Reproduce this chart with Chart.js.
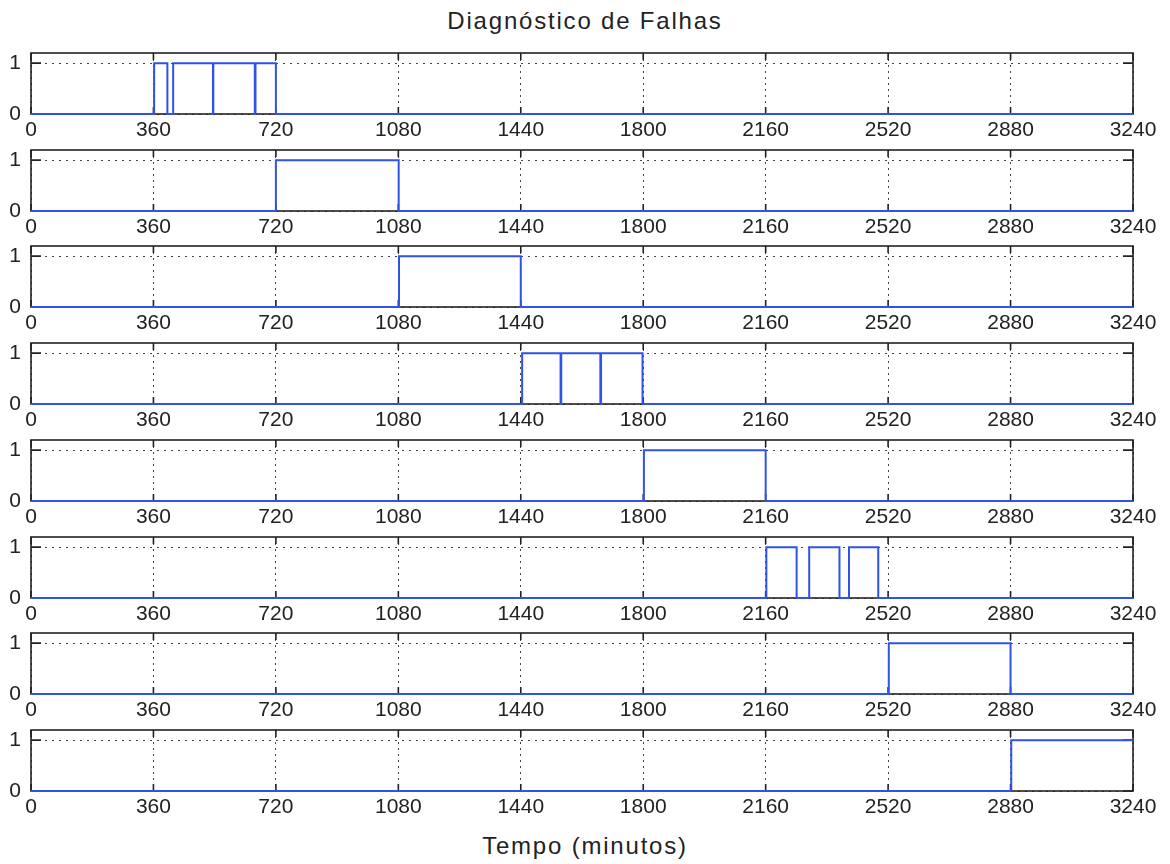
<!DOCTYPE html>
<html>
<head>
<meta charset="utf-8">
<title>Diagnóstico de Falhas</title>
<script src="https://cdn.jsdelivr.net/npm/chart.js@4.4.0/dist/chart.umd.min.js"></script>
<style>
    body { margin: 0; background: #fff; }
    #page {
        position: relative;
        width: 1170px;
        height: 864px;
        font-family: "Liberation Sans", Arial, sans-serif;
        color: #222;
    }
    .panel { position: absolute; left: 0; width: 1170px; height: 99px; }
    .caption {
        position: absolute;
        left: 0;
        width: 1170px;
        text-align: center;
        font-size: 24px;
        letter-spacing: 1.8px;
    }
</style>
</head>
<body>
<div id="page">
    <div class="caption" style="top:7px">Diagnóstico de Falhas</div>
    <div class="caption" style="top:832px">Tempo (minutos)</div>
</div>

<script>
// x ticks (minutes) and y ticks shared by every panel
const tickMinutes = [0, 360, 720, 1080, 1440, 1800, 2160, 2520, 2880, 3240];
const stateTicks = [0, 1];

// fault indicators: minute where the state changes, and the new state
const f1Time  = [0, 362, 401, 418, 535, 536, 658, 660, 720, 3240];
const f1State = [0, 1,   0,   1,   0,   1,   0,   1,   0,   0];

const f2Time  = [0, 720, 1081, 3240];
const f2State = [0, 1,   0,    0];

const f3Time  = [0, 1082, 1440, 3240];
const f3State = [0, 1,    0,    0];

const f4Time  = [0, 1444, 1557, 1559, 1674, 1676, 1798, 3240];
const f4State = [0, 1,    0,    1,    0,    1,    0,    0];

const f5Time  = [0, 1802, 2160, 3240];
const f5State = [0, 1,    0,    0];

const f6Time  = [0, 2162, 2251, 2288, 2377, 2405, 2491, 3240];
const f6State = [0, 1,    0,    1,    0,    1,    0,    0];

const f7Time  = [0, 2522, 2880, 3240];
const f7State = [0, 1,    0,    0];

const f8Time  = [0, 2882, 3240];
const f8State = [0, 1,    1];

const faults = [
    [f1Time, f1State], [f2Time, f2State], [f3Time, f3State], [f4Time, f4State],
    [f5Time, f5State], [f6Time, f6State], [f7Time, f7State], [f8Time, f8State]
];

// ===============================
// axes box with inward tick marks
// ===============================
const frame = {
    id: "frame",
    beforeDatasetsDraw(chart) {
        const { ctx, chartArea: a, scales: { x, y } } = chart;
        ctx.save();
        ctx.strokeStyle = "#222";
        ctx.lineWidth = 1.6;
        ctx.strokeRect(a.left, a.top, a.right - a.left, a.bottom - a.top);
        ctx.beginPath();
        x.ticks.forEach(t => {
            const px = x.getPixelForValue(t.value);
            ctx.moveTo(px, a.bottom); ctx.lineTo(px, a.bottom - 7);
            ctx.moveTo(px, a.top);    ctx.lineTo(px, a.top + 7);
        });
        y.ticks.forEach(t => {
            const py = y.getPixelForValue(t.value);
            ctx.moveTo(a.left, py);  ctx.lineTo(a.left + 10, py);
            ctx.moveTo(a.right, py); ctx.lineTo(a.right - 10, py);
        });
        ctx.stroke();
        ctx.restore();
    }
};

// keep every panel's plot box the same size regardless of label overhang
const noPadding = s => {
    s.paddingTop = 0;
    s.paddingBottom = 0;
    s.paddingLeft = 0;
    s.paddingRight = 0;
};

const page = document.getElementById("page");

faults.forEach(([times, states], i) => {
    const box = document.createElement("div");
    box.className = "panel";
    box.style.top = Math.round(53 + i * 96.7 - 4) + "px";
    const canvas = document.createElement("canvas");
    canvas.width = 1170;
    canvas.height = 99;
    box.appendChild(canvas);
    page.appendChild(box);

    new Chart(canvas, {
        type: "line",
        data: {
            datasets: [{
                data: times.map((t, k) => ({ x: t, y: states[k] })),
                borderColor: "#3052e6",
                borderWidth: 2,
                pointRadius: 0,
                stepped: true,
                clip: 4
            }]
        },
        options: {
            responsive: false,
            animation: false,
            devicePixelRatio: 1,
            layout: { padding: { top: 4, right: 37, left: 0, bottom: 0 } },
            plugins: { legend: { display: false }, tooltip: { enabled: false } },
            scales: {
                x: {
                    type: "linear",
                    min: 0,
                    max: 3240,
                    afterBuildTicks: s => { s.ticks = tickMinutes.map(v => ({ value: v })); },
                    afterFit: s => { s.height = 34; noPadding(s); },
                    ticks: {
                        color: "#222",
                        padding: 4,
                        maxRotation: 0,
                        autoSkip: false,
                        font: { family: "Liberation Sans", size: 21 },
                        callback: v => String(v)
                    },
                    grid: { color: "#444", lineWidth: 1, drawTicks: false },
                    border: { display: false, dash: [2, 4] }
                },
                y: {
                    min: 0,
                    max: 1.2,
                    afterBuildTicks: s => { s.ticks = stateTicks.map(v => ({ value: v })); },
                    afterFit: s => { s.width = 31; noPadding(s); },
                    ticks: {
                        color: "#222",
                        padding: 10,
                        font: { family: "Liberation Sans", size: 21 },
                        callback: v => String(v)
                    },
                    grid: { color: "#444", lineWidth: 1, drawTicks: false },
                    border: { display: false, dash: [2, 5] }
                }
            }
        },
        plugins: [frame]
    });
});
</script>
</body>
</html>
